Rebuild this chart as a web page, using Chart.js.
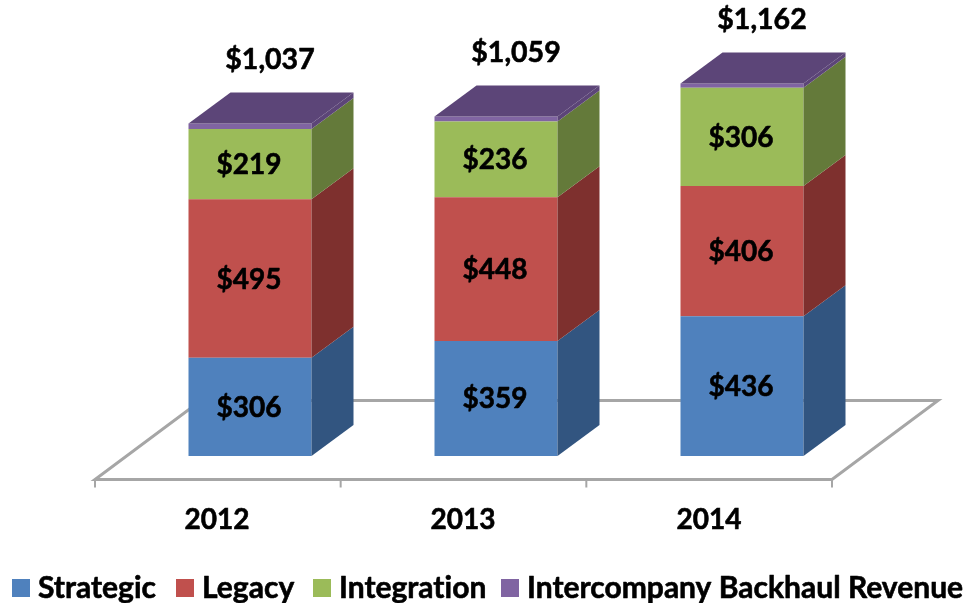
<!DOCTYPE html>
<html>
<head>
<meta charset="utf-8">
<style>html,body{margin:0;padding:0;background:#fff}canvas{display:block}</style>
<script src="https://cdn.jsdelivr.net/npm/chart.js@4"></script>
</head>
<body>
<canvas id="c" width="965" height="603"></canvas>
<script>
const categories = ['2012', '2013', '2014'];
const strategic = [306, 359, 436];
const legacy = [495, 448, 406];
const integration = [219, 236, 306];
const backhaul = [17, 16, 14];
const totals = [1037, 1059, 1162];

const FONT = 'Lato, Carlito, sans-serif';
const DX = 42, DY = 31;
const sideColors = ['#325580', '#7E302E', '#647A3A', '#5C4578'];
const money = v => '$' + v.toLocaleString('en-US');

const bars3d = {
  id: 'bars3d',
  beforeDatasetsDraw(chart) {
    const { ctx, scales: { x, y } } = chart;
    const yF = y.bottom + 23.5, xL = x.left - 32, xR = x.right - 33;
    ctx.save();
    ctx.strokeStyle = '#A6A6A6';
    ctx.lineWidth = 3;
    ctx.lineJoin = 'miter';
    ctx.beginPath();
    ctx.moveTo(xL, yF);
    ctx.lineTo(xR, yF);
    ctx.lineTo(xR + 106, yF - 79);
    ctx.lineTo(xL + 106, yF - 79);
    ctx.closePath();
    ctx.stroke();
    ctx.lineWidth = 2;
    for (let i = 0; i <= categories.length; i++) {
      const t = xL + (xR - xL) * i / categories.length;
      ctx.beginPath();
      ctx.moveTo(t, yF);
      ctx.lineTo(t, yF + 8);
      ctx.stroke();
    }
    ctx.restore();
  },
  afterDatasetsDraw(chart) {
    const { ctx } = chart;
    const n = chart.data.datasets.length;
    const boldText = (s, px, py) => { ctx.fillText(s, px, py); ctx.strokeText(s, px, py); };
    ctx.save();
    chart.data.datasets.forEach((ds, d) => {
      chart.getDatasetMeta(d).data.forEach((bar) => {
        const r = bar.x + bar.width / 2, l = bar.x - bar.width / 2;
        ctx.fillStyle = sideColors[d];
        ctx.beginPath();
        ctx.moveTo(r, bar.base);
        ctx.lineTo(r + DX, bar.base - DY);
        ctx.lineTo(r + DX, bar.y - DY);
        ctx.lineTo(r, bar.y);
        ctx.closePath();
        ctx.fill();
        if (d === n - 1) {
          ctx.beginPath();
          ctx.moveTo(l, bar.y);
          ctx.lineTo(l + DX, bar.y - DY);
          ctx.lineTo(r + DX, bar.y - DY);
          ctx.lineTo(r, bar.y);
          ctx.closePath();
          ctx.fill();
        }
      });
    });
    ctx.fillStyle = '#000';
    ctx.strokeStyle = '#000';
    ctx.lineWidth = 0.6;
    ctx.lineJoin = 'round';
    ctx.letterSpacing = '0.01px';
    ctx.textAlign = 'center';
    ctx.textBaseline = 'middle';
    ctx.font = 'bold 28px ' + FONT;
    chart.data.datasets.forEach((ds, d) => {
      if (d === n - 1) return;
      chart.getDatasetMeta(d).data.forEach((bar, i) => {
        boldText(money(ds.data[i]), bar.x - 1, (bar.y + bar.base) / 2 + 1);
      });
    });
    ctx.font = 'bold 28.5px ' + FONT;
    chart.getDatasetMeta(n - 1).data.forEach((bar, i) => {
      boldText(money(totals[i]), bar.x + 20, bar.y - 63.5);
    });
    // legend
    ctx.textAlign = 'left';
    ctx.font = 'bold 30px ' + FONT;
    const startX = [12, 176, 313, 501];
    chart.data.datasets.forEach((ds, d) => {
      ctx.fillStyle = ds.backgroundColor;
      ctx.fillRect(startX[d], 579, 18, 18);
      ctx.fillStyle = '#000';
      boldText(ds.label, startX[d] + 26, 588);
    });
    ctx.restore();
  }
};

new Chart(document.getElementById('c'), {
  type: 'bar',
  data: {
    labels: categories,
    datasets: [
      { label: 'Strategic', data: strategic, backgroundColor: '#4F81BD' },
      { label: 'Legacy', data: legacy, backgroundColor: '#C0504D' },
      { label: 'Integration', data: integration, backgroundColor: '#9BBB59' },
      { label: 'Intercompany Backhaul Revenue', data: backhaul, backgroundColor: '#8064A2' }
    ]
  },
  options: {
    responsive: false,
    animation: false,
    datasets: { bar: { categoryPercentage: 1, barPercentage: 0.5 } },
    layout: { padding: { left: 127, right: 100, top: 0, bottom: 0 } },
    plugins: { legend: { display: false }, tooltip: { enabled: false }, title: { display: false } },
    scales: {
      x: {
        stacked: true,
        grid: { display: false, drawTicks: false },
        border: { display: false },
        ticks: { color: '#000', font: { family: FONT, size: 28, weight: 'bold' }, padding: 47, labelOffset: -33, maxRotation: 0, textStrokeColor: '#000', textStrokeWidth: 0.6 },
        afterFit(s) { s.height = 147; }
      },
      y: { stacked: true, display: false, min: 0, max: 1422 }
    }
  },
  plugins: [bars3d]
});
</script>
</body>
</html>
